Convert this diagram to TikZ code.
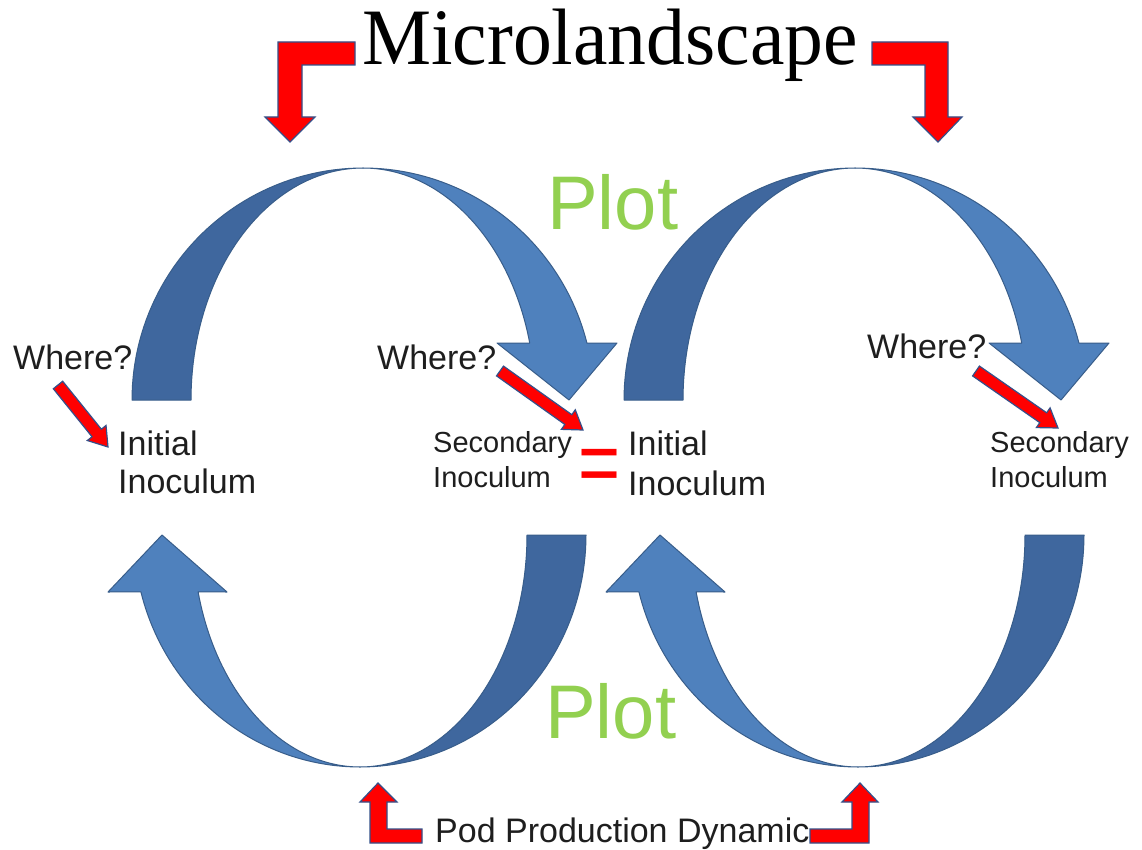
\documentclass[tikz,border=0pt]{standalone}
\usepackage{fontspec}
\setmainfont{Liberation Sans}
\newfontfamily\titlefont{Liberation Serif}
\usetikzlibrary{calc}
\definecolor{lightblue}{HTML}{4F81BD}
\definecolor{darkblue}{HTML}{3F679E}
\definecolor{edgeblue}{HTML}{385D8A}
\definecolor{plotgreen}{HTML}{92D050}
\definecolor{txt}{HTML}{1E1E1E}
\definecolor{redfill}{HTML}{FF0000}
\definecolor{redline}{HTML}{34508A}
\tikzset{
  lightpart/.style={fill=lightblue, draw=edgeblue, line width=1pt, line join=round},
  darkpart/.style={fill=darkblue, draw=edgeblue, line width=1pt, line join=round},
  redarrow/.style={fill=redfill, draw=redline, line width=1.2pt, line join=miter},
  lbl/.style={anchor=base west, inner sep=0pt, text=txt, font=\fontsize{34}{40}\selectfont},
  smalllbl/.style={lbl, font=\fontsize{29}{34}\selectfont},
  plotlbl/.style={anchor=base west, inner sep=0pt, text=plotgreen, font=\fontsize{76}{80}\selectfont},
}
% curved down arrow (PowerPoint style), crease at x=#1
\newcommand\downcurve[1]{%
  \path[darkpart] plot[domain=180:90, samples=50] ({#1+231*cos(\x)},{400-232*sin(\x)})
     -- plot[domain=90:180, samples=50] ({#1+172*cos(\x)},{400-232*sin(\x)}) -- cycle;
  \path[lightpart] plot[domain=90:14.2, samples=50] ({#1+231*cos(\x)},{400-232*sin(\x)})
     -- (#1+254,343) -- (#1+206,400) -- (#1+134,343)
     -- plot[domain=14.2:90, samples=50] ({#1+172*cos(\x)},{400-232*sin(\x)}) -- cycle;
}
% curved up arrow, crease at x=#1
\newcommand\upcurve[1]{%
  \path[darkpart] plot[domain=0:90, samples=50] ({#1+226*cos(\x)},{535+232*sin(\x)})
     -- plot[domain=90:0, samples=50] ({#1+167*cos(\x)},{535+232*sin(\x)}) -- cycle;
  \path[lightpart] plot[domain=90:165.8, samples=50] ({#1+226*cos(\x)},{535+232*sin(\x)})
     -- (#1-252,592) -- (#1-198,535) -- (#1-133,592)
     -- plot[domain=165.8:90, samples=50] ({#1+167*cos(\x)},{535+232*sin(\x)}) -- cycle;
}
% straight red arrow from #1 to #2
\newcommand\wherearrow[2]{%
  \coordinate (hb) at ($(#2)!18pt!(#1)$);
  \path[redarrow] ($(#1)!6pt!90:(#2)$) -- ($(hb)!6pt!90:(#2)$) -- ($(hb)!12pt!90:(#2)$)
     -- (#2) -- ($(hb)!12pt!-90:(#2)$) -- ($(hb)!6pt!-90:(#2)$) -- ($(#1)!6pt!-90:(#2)$) -- cycle;
}
\begin{document}
\begin{tikzpicture}[x=1pt,y=-1pt]
\useasboundingbox (0,0) rectangle (1142,850);
\fill[white] (0,0) rectangle (1142,850);

% big curved arrows
\downcurve{363}
\downcurve{855}
\upcurve{360}
\upcurve{858}

% title
\node[anchor=base west, inner sep=0pt, text=black, font=\titlefont\fontsize{80}{90}\selectfont]
  (title) at (362,65) {\scalebox{0.97}[1]{Microlandscape}};

% bent red arrows (top)
\path[redarrow] (355,42) -- (355,65) -- (302,65) -- (302,117) -- (315,117) -- (290,142)
  -- (265,117) -- (278,117) -- (278,42) -- cycle;
\path[redarrow] (872,42) -- (948,42) -- (948,117) -- (962,117) -- (938,142) -- (913,117)
  -- (925,117) -- (925,65) -- (872,65) -- cycle;
% bent red arrows (bottom)
\path[redarrow] (378,783) -- (397,802) -- (387,802) -- (387,829) -- (422,829) -- (422,843)
  -- (370,843) -- (370,802) -- (360,802) -- cycle;
\path[redarrow] (860,783) -- (878,802) -- (869,802) -- (869,843) -- (810,843) -- (810,829)
  -- (852,829) -- (852,802) -- (842,802) -- cycle;

% Where? arrows
\coordinate (w1s) at (58,385);   \coordinate (w1e) at (108,447);
\coordinate (w2s) at (500,371);  \coordinate (w2e) at (583,430);
\coordinate (w3s) at (976,371);  \coordinate (w3e) at (1058,428);
\wherearrow{w1s}{w1e}
\wherearrow{w2s}{w2e}
\wherearrow{w3s}{w3e}

% labels
\node[lbl] (where1) at (13,369) {Where?};
\node[lbl] (where2) at (377,369) {Where?};
\node[lbl] (where3) at (867,358) {Where?};

\node[lbl] (init1a) at (118,455) {Initial};
\node[lbl] (init1b) at (118,493) {Inoculum};
\node[smalllbl] (sec1a) at (433,452) {Secondary};
\node[smalllbl] (sec1b) at (433,487) {Inoculum};
\node[lbl] (init2a) at (628,455) {Initial};
\node[lbl] (init2b) at (628,495) {Inoculum};
\node[smalllbl] (sec2a) at (990,452) {Secondary};
\node[smalllbl] (sec2b) at (990,487) {Inoculum};

\node[inner sep=0pt, text=redfill, font=\fontsize{60}{60}\selectfont]
  (eq) at (600,471) {\scalebox{1.2}[1.5]{=}};

\node[plotlbl] (plot1) at (547,230) {Plot};
\node[plotlbl] (plot2) at (545,738) {Plot};

\node[lbl] (pod) at (435,842) {Pod Production Dynamic};
\end{tikzpicture}
\end{document}
